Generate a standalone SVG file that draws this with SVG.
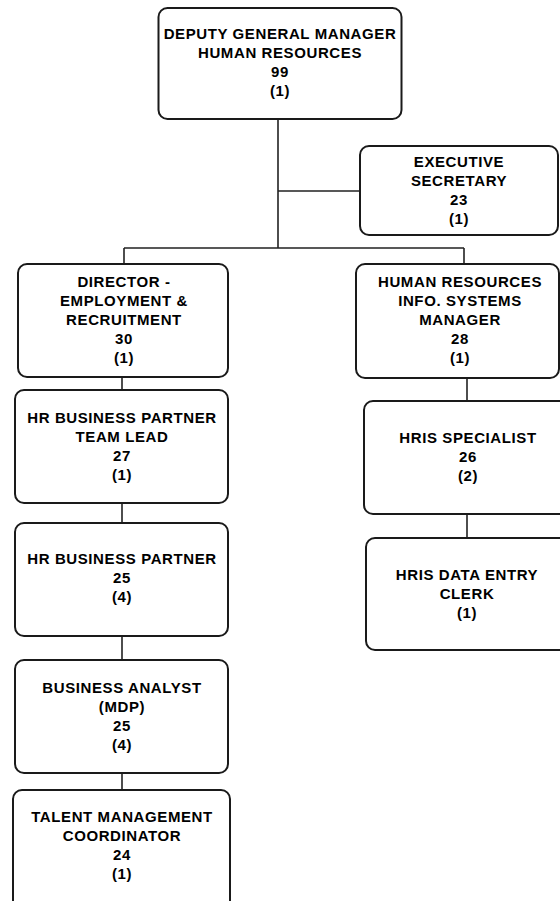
<svg xmlns="http://www.w3.org/2000/svg" width="560" height="901" viewBox="0 0 560 901">
<style>
.box{fill:#fff;stroke:#1a1a1a;stroke-width:2}
.t{font-family:"Liberation Sans",Arial,sans-serif;font-weight:bold;font-size:15px;letter-spacing:0.6px;fill:#000;text-anchor:middle}
.c{stroke:#222;stroke-width:1.6;fill:none}
</style>
<rect width="560" height="901" fill="#fff"/>
<g id="connectors">
<path class="c" d="M278,119 V248 M278,191 H360 M124,248 H464 M124,248 V264 M464,248 V264 M122,377 V390 M122,503 V523 M122,636 V660 M122,773 V790 M467,378 V401 M467,514 V538"/>
</g>
<g id="n-dgm"><rect class="box" x="158.5" y="8" width="243" height="111" rx="9"/>
<text class="t" x="280"><tspan x="280" y="39">DEPUTY GENERAL MANAGER</tspan><tspan x="280" y="58">HUMAN RESOURCES</tspan><tspan x="280" y="77">99</tspan><tspan x="280" y="96">(1)</tspan></text></g>
<g id="n-exec"><rect class="box" x="360" y="146" width="198" height="89" rx="9"/>
<text class="t"><tspan x="459" y="167">EXECUTIVE</tspan><tspan x="459" y="186">SECRETARY</tspan><tspan x="459" y="205">23</tspan><tspan x="459" y="224">(1)</tspan></text></g>
<g id="n-director"><rect class="box" x="18" y="264" width="210" height="113" rx="9"/>
<text class="t"><tspan x="124" y="287">DIRECTOR -</tspan><tspan x="124" y="306">EMPLOYMENT &amp;</tspan><tspan x="124" y="325">RECRUITMENT</tspan><tspan x="124" y="344">30</tspan><tspan x="124" y="363">(1)</tspan></text></g>
<g id="n-hrism"><rect class="box" x="356" y="264" width="203" height="114" rx="9"/>
<text class="t"><tspan x="460" y="287">HUMAN RESOURCES</tspan><tspan x="460" y="306">INFO. SYSTEMS</tspan><tspan x="460" y="325">MANAGER</tspan><tspan x="460" y="344">28</tspan><tspan x="460" y="363">(1)</tspan></text></g>
<g id="n-hrbptl"><rect class="box" x="15" y="390" width="213" height="113" rx="9"/>
<text class="t"><tspan x="122" y="423">HR BUSINESS PARTNER</tspan><tspan x="122" y="442">TEAM LEAD</tspan><tspan x="122" y="461">27</tspan><tspan x="122" y="480">(1)</tspan></text></g>
<g id="n-hrbp"><rect class="box" x="15" y="523" width="213" height="113" rx="9"/>
<text class="t"><tspan x="122" y="564">HR BUSINESS PARTNER</tspan><tspan x="122" y="583">25</tspan><tspan x="122" y="602">(4)</tspan></text></g>
<g id="n-ba"><rect class="box" x="15" y="660" width="213" height="113" rx="9"/>
<text class="t"><tspan x="122" y="693">BUSINESS ANALYST</tspan><tspan x="122" y="712">(MDP)</tspan><tspan x="122" y="731">25</tspan><tspan x="122" y="750">(4)</tspan></text></g>
<g id="n-tmc"><rect class="box" x="13" y="790" width="217" height="120" rx="9"/>
<text class="t"><tspan x="122" y="822">TALENT MANAGEMENT</tspan><tspan x="122" y="841">COORDINATOR</tspan><tspan x="122" y="860">24</tspan><tspan x="122" y="879">(1)</tspan></text></g>
<g id="n-hriss"><rect class="box" x="364" y="401" width="210" height="113" rx="9"/>
<text class="t"><tspan x="468" y="443">HRIS SPECIALIST</tspan><tspan x="468" y="462">26</tspan><tspan x="468" y="481">(2)</tspan></text></g>
<g id="n-hrisde"><rect class="box" x="366" y="538" width="210" height="112" rx="9"/>
<text class="t"><tspan x="467" y="580">HRIS DATA ENTRY</tspan><tspan x="467" y="599">CLERK</tspan><tspan x="467" y="618">(1)</tspan></text></g>
</svg>
